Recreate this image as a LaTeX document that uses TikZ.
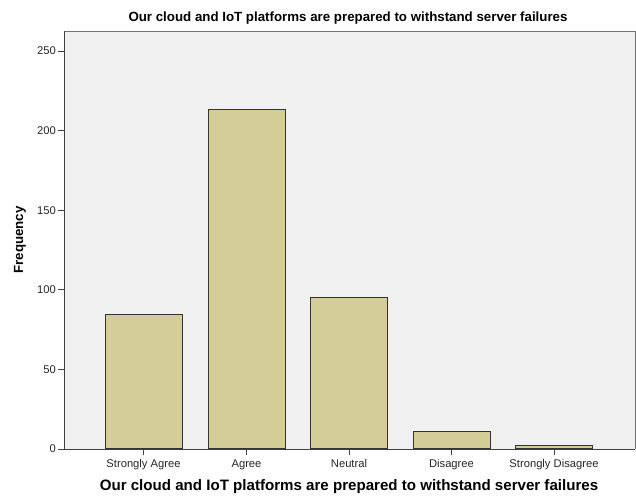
\documentclass[tikz,border=0pt]{standalone}
\usepackage{fontspec}
\setmainfont{Liberation Sans}
\definecolor{barfill}{HTML}{D3CE97}
\definecolor{plotbg}{HTML}{F0F0F0}
\definecolor{axisgray}{HTML}{404040}
\begin{document}
\begin{tikzpicture}[x=1pt,y=-1pt,
  bar/.style={draw=black!80,line width=0.9pt,fill=barfill},
  ticklab/.style={font=\fontsize{11.2}{12}\selectfont,text=black!85},
  axlab/.style={font=\bfseries\fontsize{13.3}{15}\selectfont}]
\useasboundingbox (0,0) rectangle (636,497);
% plot area
\fill[plotbg] (64,31) rectangle (635,449);
\draw[black!55,line width=0.8pt] (64,31) -- (635,31) -- (635,449);
% bars
\node[bar,minimum width=77pt,minimum height=134pt,anchor=south,inner sep=0] (b1) at (143.5,449) {};
\node[bar,minimum width=77pt,minimum height=339pt,anchor=south,inner sep=0] (b2) at (246.5,449) {};
\node[bar,minimum width=77pt,minimum height=151pt,anchor=south,inner sep=0] (b3) at (349,449) {};
\node[bar,minimum width=77pt,minimum height=17.5pt,anchor=south,inner sep=0] (b4) at (451.5,449) {};
\node[bar,minimum width=77pt,minimum height=3pt,anchor=south,inner sep=0] (b5) at (554,449) {};
% axes
\draw[axisgray,line width=0.9pt] (64,31) -- (64,449) -- (635,449);
\foreach \v/\y in {0/449,50/369.4,100/289.8,150/210.2,200/130.6,250/51}{
  \draw[axisgray,line width=0.9pt] (58,\y) -- (64,\y);
  \node[ticklab,anchor=east,inner sep=1pt] at (57,\y) {\v};
}
\foreach \x/\t in {143.5/Strongly Agree,246.5/Agree,349/Neutral,451.5/Disagree,554/Strongly Disagree}{
  \draw[axisgray,line width=0.9pt] (\x,449) -- (\x,455);
  \node[ticklab,anchor=base] at (\x,467) {\t};
}
% titles
\node[axlab] (title) at (348,18) {Our cloud and IoT platforms are prepared to withstand server failures};
\node[axlab,font=\bfseries\fontsize{15.1}{17}\selectfont] (xlab) at (349,487) {Our cloud and IoT platforms are prepared to withstand server failures};
\node[axlab,rotate=90] (ylab) at (20,240) {Frequency};
\end{tikzpicture}
\end{document}
